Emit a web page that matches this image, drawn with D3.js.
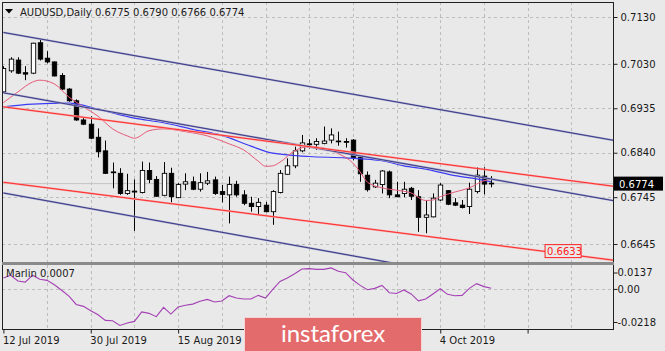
<!DOCTYPE html>
<html>
<head>
<meta charset="utf-8">
<script src="https://cdnjs.cloudflare.com/ajax/libs/d3/7.8.5/d3.min.js"></script>
<style>
body { margin: 0; background: #e9e9e9; }
svg { display: block; font-family: "DejaVu Sans", sans-serif; }
</style>
</head>
<body>
<svg id="chart"></svg>
<script>
var width = 665;
var height = 351;

// daily candles, 12 Jul 2019 .. 15 Oct 2019
var opens  = [0.6970,0.7015,0.7038,0.7011,0.7010,0.7075,0.7042,0.7034,0.7005,0.6976,0.6951,0.6910,0.6901,0.6873,0.6844,0.6799,0.6796,0.6753,0.6756,0.6755,0.6802,0.6783,0.6749,0.6796,0.6744,0.6773,0.6778,0.6762,0.6775,0.6782,0.6757,0.6750,0.6772,0.6750,0.6732,0.6725,0.6728,0.6714,0.6755,0.6794,0.6812,0.6844,0.6859,0.6858,0.6860,0.6867,0.6865,0.6864,0.6867,0.6830,0.6792,0.6767,0.6772,0.6799,0.6750,0.6753,0.6764,0.6746,0.6702,0.6703,0.6739,0.6759,0.6733,0.6728,0.6725,0.6757,0.6790,0.6775];
var highs  = [0.7025,0.7044,0.7044,0.7025,0.7075,0.7082,0.7057,0.7035,0.7010,0.6978,0.6954,0.6914,0.6918,0.6892,0.6866,0.6819,0.6807,0.6795,0.6783,0.6821,0.6819,0.6790,0.6820,0.6808,0.6775,0.6796,0.6789,0.6796,0.6799,0.6789,0.6771,0.6789,0.6780,0.6760,0.6746,0.6743,0.6735,0.6760,0.6803,0.6828,0.6853,0.6878,0.6869,0.6871,0.6896,0.6892,0.6885,0.6871,0.6869,0.6832,0.6800,0.6782,0.6803,0.6802,0.6778,0.6778,0.6767,0.6760,0.6739,0.6753,0.6775,0.6760,0.6743,0.6739,0.6776,0.6809,0.6809,0.6790];
var lows   = [0.6968,0.7011,0.7008,0.6995,0.7008,0.7037,0.7031,0.7003,0.6974,0.6949,0.6908,0.6899,0.6869,0.6830,0.6795,0.6764,0.6750,0.6750,0.6673,0.6753,0.6775,0.6746,0.6747,0.6734,0.6743,0.6760,0.6760,0.6757,0.6771,0.6750,0.6734,0.6689,0.6746,0.6728,0.6714,0.6707,0.6713,0.6686,0.6753,0.6793,0.6807,0.6841,0.6849,0.6846,0.6858,0.6860,0.6855,0.6851,0.6824,0.6778,0.6757,0.6765,0.6753,0.6743,0.6745,0.6745,0.6739,0.6671,0.6668,0.6702,0.6737,0.6728,0.6726,0.6721,0.6709,0.6753,0.6751,0.6766];
var closes = [0.7020,0.7040,0.7010,0.7008,0.7074,0.7040,0.7034,0.7004,0.6976,0.6951,0.6910,0.6901,0.6871,0.6842,0.6796,0.6798,0.6753,0.6759,0.6758,0.6802,0.6783,0.6747,0.6796,0.6746,0.6772,0.6778,0.6762,0.6776,0.6780,0.6753,0.6751,0.6772,0.6750,0.6732,0.6725,0.6734,0.6714,0.6757,0.6796,0.6812,0.6844,0.6861,0.6857,0.6864,0.6865,0.6878,0.6865,0.6863,0.6830,0.6795,0.6761,0.6775,0.6801,0.6750,0.6746,0.6762,0.6747,0.6702,0.6707,0.6743,0.6771,0.6730,0.6728,0.6723,0.6762,0.6792,0.6773,0.6774];

// moving averages: [bar, price]
var fastMA = [[0,0.6947],[2,0.6970],[4,0.6991],[5,0.6995],[7,0.6987],[9,0.6959],[11,0.6938],[13,0.6918],[15,0.6891],[17,0.6876],[18,0.6871],[20,0.6887],[22,0.6891],[25,0.6885],[28,0.6876],[31,0.6859],[33,0.6846],[35,0.6822],[36,0.6811],[37,0.6812],[38,0.6820],[40,0.6844],[42,0.6853],[44,0.6850],[46,0.6838],[48,0.6818],[49,0.6799],[50,0.6777],[52,0.6765],[54,0.6760],[56,0.6754],[58,0.6738],[59,0.6739],[60,0.6746],[62,0.6756],[64,0.6765],[66,0.6780],[67,0.6783]];
var slowMA = [[0,0.6938],[4,0.6944],[9,0.6946],[13,0.6933],[18,0.6914],[22,0.6904],[26,0.6890],[30,0.6877],[34,0.6854],[37,0.6839],[42,0.6832],[47,0.6829],[52,0.6823],[55,0.6812],[58,0.6805],[62,0.6791],[65,0.6784],[67,0.6778]];

// trend lines: [bar, price] end points
var blueTop    = [[0,0.7097],[84,0.6866]];
var blueMid    = [[0,0.6968],[84,0.6737]];
var blueLow    = [[0,0.6754],[84,0.6519]];
var redTop     = [[0,0.6938],[84,0.6768]];
var redLow     = [[0,0.6777],[84,0.6610]];
var redLabel   = {bar: 74.4, price: 0.6633, text: "0.6633"};

// Marlin oscillator, one value per bar
var marlin = [0.0065,0.0081,0.0048,0.0042,0.0081,0.0058,0.0052,0.0027,-0.0005,-0.0038,-0.0086,-0.0097,-0.0122,-0.0145,-0.0177,-0.0179,-0.0206,-0.0192,-0.0183,-0.0129,-0.0137,-0.0156,-0.0103,-0.0141,-0.0101,-0.0091,-0.0084,-0.0068,-0.0057,-0.0072,-0.0066,-0.0036,-0.0049,-0.0055,-0.0055,-0.0034,-0.0049,0.0000,0.0046,0.0065,0.0090,0.0117,0.0119,0.0115,0.0115,0.0123,0.0104,0.0096,0.0054,0.0023,-0.0002,0.0006,0.0023,-0.0019,-0.0023,-0.0003,-0.0026,-0.0065,-0.0055,-0.0026,0.0004,-0.0028,-0.0036,-0.0034,0.0006,0.0033,0.0016,0.0007];

var priceTicks = [0.7130, 0.7030, 0.6935, 0.6840, 0.6745, 0.6645];
var oscTicks = [0.0137, 0, -0.0218];
var oscTickText = ["0.0137", "0.00", "-0.0218"];
// labels at bars 36 and 48 sit under the watermark in the original and are not shown
var dateTicks = [0, 12, 24, 36, 48, 60, 72];
var dateLabels = ["12 Jul 2019", "30 Jul 2019", "15 Aug 2019", "", "", "4 Oct 2019", ""];
var title = "AUDUSD,Daily 0.6775 0.6790 0.6766 0.6774";

var left = 2, right = 613, mainTop = 2, mainBottom = 262, oscTop = 265, oscBottom = 329;

var svg = d3.select("#chart")
    .attr("width", width)
    .attr("height", height);

svg.append("rect").attr("width", width).attr("height", height).attr("fill", "#e9e9e9");

var x = d3.scaleLinear().domain([0, 67]).range([3.4, 491.2]);
var y = d3.scaleLinear().domain([0.7130, 0.6645]).range([17, 244]);
var yOsc = d3.scaleLinear().domain([0.0137, -0.0218]).range([265.5, 327.5]);

var defs = svg.append("defs");
defs.append("clipPath").attr("id", "clipMain")
    .append("rect").attr("x", left).attr("y", mainTop)
    .attr("width", right - left).attr("height", mainBottom - mainTop);
defs.append("clipPath").attr("id", "clipOsc")
    .append("rect").attr("x", left).attr("y", oscTop)
    .attr("width", right - left).attr("height", oscBottom - oscTop);

// grid
var grid = svg.append("g")
    .attr("stroke", "#bdbdbd")
    .attr("stroke-dasharray", "3,3")
    .attr("shape-rendering", "crispEdges");

d3.range(6, 84, 6).forEach(function(i) {
    var gx = Math.round(x(i)) + 0.5;
    grid.append("line").attr("x1", gx).attr("x2", gx).attr("y1", mainTop).attr("y2", mainBottom);
    grid.append("line").attr("x1", gx).attr("x2", gx).attr("y1", oscTop).attr("y2", oscBottom);
});
priceTicks.forEach(function(p) {
    var gy = Math.round(y(p)) + 0.5;
    grid.append("line").attr("x1", left).attr("x2", right).attr("y1", gy).attr("y2", gy);
});
grid.append("line").attr("x1", left).attr("x2", right)
    .attr("y1", Math.round(yOsc(0)) + 0.5).attr("y2", Math.round(yOsc(0)) + 0.5);

var main = svg.append("g").attr("clip-path", "url(#clipMain)");

// last price line
var last = closes[closes.length - 1];
main.append("line")
    .attr("x1", left).attr("x2", right)
    .attr("y1", y(last)).attr("y2", y(last))
    .attr("stroke", "#c4c4c4")
    .attr("stroke-width", 1);

// candles
var bars = d3.range(opens.length);
var bw = 4.4;

main.selectAll(".wick")
    .data(bars)
    .enter().append("line")
    .attr("x1", function(i) { return Math.round(x(i)) + 0.5; })
    .attr("x2", function(i) { return Math.round(x(i)) + 0.5; })
    .attr("y1", function(i) { return y(highs[i]); })
    .attr("y2", function(i) { return y(lows[i]); })
    .attr("stroke", "#000")
    .attr("stroke-width", 1);

main.selectAll(".body")
    .data(bars)
    .enter().append("rect")
    .attr("x", function(i) { return Math.round(x(i)) + 0.5 - bw / 2; })
    .attr("y", function(i) { return y(Math.max(opens[i], closes[i])); })
    .attr("width", bw)
    .attr("height", function(i) {
        return Math.max(0.8, Math.abs(y(opens[i]) - y(closes[i])));
    })
    .attr("fill", function(i) { return closes[i] >= opens[i] ? "#ffffff" : "#000000"; })
    .attr("stroke", "#000")
    .attr("stroke-width", 0.9);

// moving averages
var maLine = d3.line()
    .x(function(d) { return x(d[0]); })
    .y(function(d) { return y(d[1]); })
    .curve(d3.curveMonotoneX);

main.append("path").attr("d", maLine(slowMA))
    .attr("fill", "none").attr("stroke", "#3b3bf5").attr("stroke-width", 1.2);
main.append("path").attr("d", maLine(fastMA))
    .attr("fill", "none").attr("stroke", "#e65a78").attr("stroke-width", 1);

// trend lines
var trend = d3.line()
    .x(function(d) { return x(d[0]); })
    .y(function(d) { return y(d[1]); });

[blueTop, blueMid, blueLow].forEach(function(t) {
    main.append("path").attr("d", trend(t))
        .attr("fill", "none").attr("stroke", "#a8a8cc").attr("stroke-width", 2);
    main.append("path").attr("d", trend(t))
        .attr("fill", "none").attr("stroke", "#2c2c80").attr("stroke-width", 0.9);
});
[redTop, redLow].forEach(function(t) {
    main.append("path").attr("d", trend(t))
        .attr("fill", "none").attr("stroke", "#f7a4a4").attr("stroke-width", 2);
    main.append("path").attr("d", trend(t))
        .attr("fill", "none").attr("stroke", "#ff2020").attr("stroke-width", 0.9);
});

// label on the lower red line
var lx = x(redLabel.bar), ly = y(redLabel.price);
svg.append("rect")
    .attr("x", lx).attr("y", ly - 5)
    .attr("width", 36).attr("height", 13)
    .attr("fill", "#e9e9e9")
    .attr("stroke", "#ff2020")
    .attr("stroke-width", 1);
svg.append("text")
    .attr("x", lx + 2).attr("y", ly + 5.5)
    .attr("font-size", "10px")
    .attr("fill", "#ff2020")
    .text(redLabel.text);

// oscillator
var osc = svg.append("g").attr("clip-path", "url(#clipOsc)");
osc.append("path")
    .attr("d", d3.line()
        .x(function(d, i) { return x(i); })
        .y(function(d) { return yOsc(d); })(marlin))
    .attr("fill", "none")
    .attr("stroke", "#a441b4")
    .attr("stroke-width", 1.1);

svg.append("text")
    .attr("x", 6).attr("y", 277)
    .attr("font-size", "10px")
    .attr("fill", "#1a1a1a")
    .text("Marlin " + marlin[marlin.length - 1].toFixed(4));

// frames
var frame = svg.append("g").attr("fill", "none").attr("shape-rendering", "crispEdges");
frame.append("rect")
    .attr("x", left + 0.5).attr("y", mainTop + 0.5)
    .attr("width", right - left).attr("height", oscBottom - mainTop)
    .attr("stroke", "#202020");
frame.append("rect")
    .attr("x", left).attr("y", mainBottom)
    .attr("width", right - left + 1).attr("height", oscTop - mainBottom)
    .attr("fill", "#8a8a8a");

// price axis
var yAxis = d3.axisRight(y)
    .tickValues(priceTicks)
    .tickSize(4)
    .tickFormat(d3.format(".4f"));

var ya = svg.append("g")
    .attr("transform", "translate(" + (right + 0.5) + ",0)")
    .call(yAxis);
ya.select(".domain").remove();
ya.selectAll("text").attr("font-size", "10px").attr("font-family", "DejaVu Sans").attr("fill", "#1a1a1a");
ya.selectAll("line").attr("stroke", "#202020");

// oscillator axis (labels sit inside the window edges)
var oAxis = d3.axisRight(yOsc)
    .tickValues(oscTicks)
    .tickSize(4)
    .tickFormat(function(d, i) { return oscTickText[i]; });

var oa = svg.append("g")
    .attr("transform", "translate(" + (right + 0.5) + ",0)")
    .call(oAxis);
oa.select(".domain").remove();
oa.selectAll(".tick").attr("transform", function(d) {
    var ty = yOsc(d);
    if (d === oscTicks[0]) ty += 7.5;
    if (d === oscTicks[2]) ty -= 5;
    return "translate(0," + ty + ")";
});
oa.selectAll("text").attr("font-size", "10px").attr("font-family", "DejaVu Sans").attr("fill", "#1a1a1a").attr("x", 4);
oa.selectAll("line").attr("stroke", "#202020");

// last price box
svg.append("rect")
    .attr("x", right + 1).attr("y", y(last) - 7)
    .attr("width", 49).attr("height", 14)
    .attr("fill", "#000");
svg.append("text")
    .attr("x", right + 6).attr("y", y(last) + 4)
    .attr("font-size", "10px")
    .attr("fill", "#fff")
    .text(last.toFixed(4));

// date axis
var xAxis = d3.axisBottom(x)
    .tickValues(dateTicks)
    .tickSize(4)
    .tickFormat(function(d, i) { return dateLabels[i]; });

var xa = svg.append("g")
    .attr("transform", "translate(0," + (oscBottom + 0.5) + ")")
    .call(xAxis);
xa.select(".domain").remove();
xa.selectAll("text")
    .attr("font-size", "10px")
    .attr("font-family", "DejaVu Sans")
    .attr("fill", "#1a1a1a")
    .attr("text-anchor", "start")
    .attr("x", -1)
    .attr("y", 7);
xa.selectAll("line").attr("stroke", "#202020");

// title
svg.append("path")
    .attr("d", "M5,9 L13,9 L9,13.5 Z")
    .attr("fill", "#000");
svg.append("text")
    .attr("x", 20).attr("y", 16)
    .attr("font-size", "10px")
    .attr("fill", "#1a1a1a")
    .text(title);

// watermark
svg.append("rect")
    .attr("x", 244.5).attr("y", 317.5)
    .attr("width", 177).attr("height", 34)
    .attr("fill", "#e36b6b")
    .attr("stroke", "#f3d3d3");
svg.append("text")
    .attr("x", 333).attr("y", 342)
    .attr("text-anchor", "middle")
    .attr("font-family", "Lato, sans-serif")
    .attr("font-size", "24px")
    .attr("fill", "#ffffff")
    .text("instaforex");
</script>
</body>
</html>
